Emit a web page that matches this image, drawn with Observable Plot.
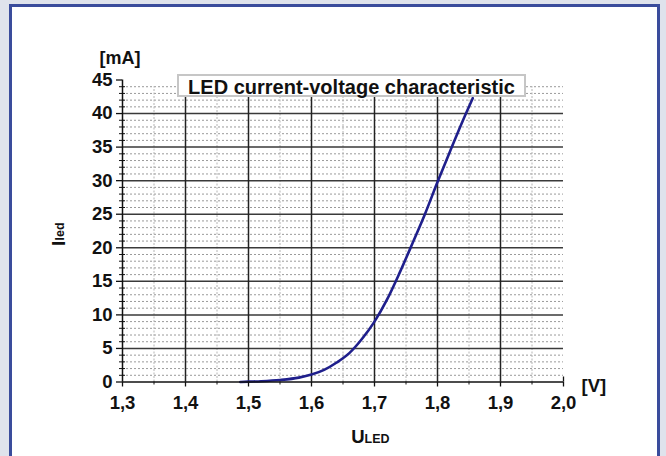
<!DOCTYPE html>
<html><head><meta charset="utf-8">
<script src="https://cdn.jsdelivr.net/npm/d3@7"></script>
<script src="https://cdn.jsdelivr.net/npm/@observablehq/plot@0.6"></script>
<style>
html,body{margin:0;padding:0;background:#dfe3ec;}
#wrap{position:relative;width:666px;height:456px;overflow:hidden;background:#dfe3ec;font-family:"Liberation Sans",Arial,sans-serif;}
#frame{position:absolute;left:9px;top:4px;width:645px;height:480px;border:3px solid #3a4c9c;background:#fff;}
#chart{position:absolute;left:0;top:0;}
#title{position:absolute;left:177px;top:74px;width:345px;height:19px;border:2px solid #c6c6c6;background:#fff;font:bold 20px "Liberation Sans",Arial,sans-serif;text-align:center;line-height:22px;color:#111;white-space:nowrap;}
</style>
</head><body>
<div id="wrap"><div id="frame"></div><div id="chart"></div><div id="title">LED current-voltage characteristic</div></div>
<script>
// LED forward voltage [V] and current [mA]
const voltage = [1.487, 1.50, 1.52, 1.55, 1.58, 1.60, 1.62, 1.64, 1.66, 1.68, 1.70, 1.72, 1.74, 1.76, 1.78, 1.80, 1.82, 1.84, 1.856];
const current = [0, 0.05, 0.12, 0.3, 0.65, 1.1, 1.8, 2.9, 4.3, 6.4, 9.0, 12.3, 16.3, 20.6, 25.0, 29.8, 34.4, 38.9, 42.3];

const xMajor = [1.3, 1.4, 1.5, 1.6, 1.7, 1.8, 1.9, 2.0];
const xMinor = [1.35, 1.45, 1.55, 1.65, 1.75, 1.85, 1.95];
const yMajor = [0, 5, 10, 15, 20, 25, 30, 35, 40, 45];
const yMinor = [1,2,3,4,6,7,8,9,11,12,13,14,16,17,18,19,21,22,23,24,26,27,28,29,31,32,33,34,36,37,38,39,41,42,43,44];

const xLabel = "U", xLabelSub = "LED", xUnit = "[V]";
const yLabel = "I", yLabelSub = "led", yUnit = "[mA]";

const table = voltage.map((v, i) => ({v, i: current[i]}));
const xMin = xMajor[0], xMax = xMajor[xMajor.length - 1];
const yMin = yMajor[0], yMax = yMajor[yMajor.length - 1];
const gridTop = yMinor[yMinor.length - 1];
const fmt = d => d3.format(".1f")(d).replace(".", ",");
const font = "Liberation Sans, Arial, sans-serif";
const ink = "#111";

const chart = Plot.plot({
  width: 666, height: 456,
  marginLeft: 122, marginRight: 103, marginTop: 79.5, marginBottom: 74.5,
  x: {domain: [xMin, xMax]},
  y: {domain: [yMin, yMax]},
  style: {background: "transparent", fontFamily: font, color: ink, overflow: "visible"},
  marks: [
    Plot.ruleY(yMinor, {x1: xMin, x2: xMax, stroke: "#9a9a9a", strokeDasharray: "2,2", strokeWidth: 1}),
    Plot.ruleX(xMinor, {y1: yMin, y2: gridTop, stroke: "#b4b4b4", strokeDasharray: "2,1.5", strokeWidth: 1}),
    Plot.ruleY(yMajor.filter(d => d > yMin && d < yMax), {x1: xMin, x2: xMax, stroke: "#3a3a3a", strokeWidth: 1.5}),
    Plot.ruleX(xMajor.filter(d => d > xMin && d < xMax), {y1: yMin, y2: gridTop, stroke: "#222", strokeWidth: 1.5}),
    Plot.line(table, {x: "v", y: "i", stroke: "#1f1f8c", strokeWidth: 2.6, curve: "monotone-x"}),
    Plot.ruleX([xMin], {y1: yMin, y2: yMax, stroke: ink, strokeWidth: 1.5}),
    Plot.ruleY([yMin], {x1: xMin, x2: xMax, stroke: ink, strokeWidth: 1.5}),
    // y ticks
    Plot.axisY(yMajor, {anchor: "left", tickSize: 6, tickFormat: () => "", label: null, strokeWidth: 1.3}),
    Plot.axisY(yMinor, {anchor: "left", tickSize: 3, tickFormat: () => "", label: null}),
    Plot.axisY(yMinor, {anchor: "left", tickSize: 3, tickFormat: () => "", label: null, dx: 3}),
    Plot.text(yMajor, {x: xMin, y: d => d, text: d => String(d), textAnchor: "end", lineAnchor: "middle", dx: -10, fontSize: 18.5, fontWeight: "bold", fill: ink}),
    // x ticks
    Plot.axisX(xMajor, {anchor: "bottom", tickSize: 5, tickFormat: () => "", label: null, strokeWidth: 1.3}),
    Plot.axisX(xMinor, {anchor: "bottom", tickSize: 3, tickFormat: () => "", label: null}),
    Plot.axisX([xMax], {anchor: "bottom", tickSize: 5, tickFormat: () => "", label: null, dy: -5, strokeWidth: 1.3}),
    Plot.text(xMajor, {x: d => d, y: yMin, text: fmt, textAnchor: "middle", lineAnchor: "top", dy: 14, fontSize: 18.5, fontWeight: "bold", fill: ink}),
    // unit and axis labels
    Plot.text([yUnit], {frameAnchor: "top-left", textAnchor: "start", lineAnchor: "middle", dx: -23, dy: -21.5, fontSize: 18, fontWeight: "bold", fill: ink}),
    Plot.text([xUnit], {frameAnchor: "bottom-right", textAnchor: "start", lineAnchor: "middle", dx: 18, dy: 4, fontSize: 18.5, fontWeight: "bold", fill: ink}),
    Plot.text([xLabel], {frameAnchor: "bottom", textAnchor: "end", lineAnchor: "middle", dx: 21.5, dy: 54.7, fontSize: 18.5, fontWeight: "bold", fill: ink}),
    Plot.text([xLabelSub], {frameAnchor: "bottom", textAnchor: "start", lineAnchor: "middle", dx: 21.5, dy: 56.7, fontSize: 12.5, fontWeight: "bold", fill: ink}),
    Plot.text([yLabel], {frameAnchor: "left", textAnchor: "start", lineAnchor: "middle", rotate: -90, dx: -63, dy: 15, fontSize: 18.5, fontWeight: "bold", fill: ink}),
    Plot.text([yLabelSub], {frameAnchor: "left", textAnchor: "start", lineAnchor: "middle", rotate: -90, dx: -63, dy: 9.5, fontSize: 12.5, fontWeight: "bold", fill: ink})
  ]
});
document.getElementById("chart").appendChild(chart);
</script>
</body></html>
